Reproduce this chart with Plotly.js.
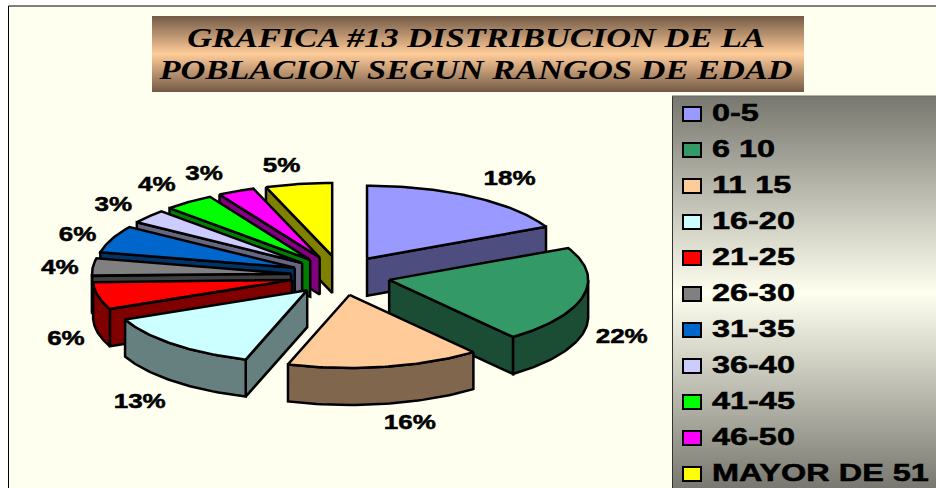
<!DOCTYPE html>
<html>
<head>
<meta charset="utf-8">
<script src="https://cdn.plot.ly/plotly-3.0.1.min.js"></script>
<style>html,body{margin:0;padding:0;background:#fff;overflow:hidden}</style>
</head>
<body>
<div id="chart" style="width:936px;height:488px"></div>
<script>
// ---- data ----
var categories = ['0-5','6 10','11 15','16-20','21-25','26-30','31-35','36-40','41-45','46-50','MAYOR DE 51'];
var values = [17.8,21.5,15.7,13.4,6.1,3.9,6.0,3.1,4.1,3.0,5.4];
var topColors = ['#9999FF','#339966','#FFCC99','#CCFFFF','#FF0000','#808080','#0066CC','#CCCCFF','#00FF00','#FF00FF','#FFFF00'];
var wallColors = ['#4D4D80','#1A4D33','#80664D','#668080','#800000','#404040','#003366','#666680','#008000','#800080','#808000'];
var titleText = 'GRAFICA #13 DISTRIBUCION DE LA<br>POBLACION SEGUN RANGOS DE EDAD';

// ---- drawing parameters ----
var W = 936, H = 488;
var cx = 340.6, cy = 275.5, rx = 199, ry = 73, depth = 37, pullX = 49.8, pullY = 19.8;
var labelNudgeX = [37,38.5,25,-34,-32,-33,-34,-35,-32,-32,-17];
var labelNudgeY = [-17,42,57,58,44,2,-3,-11,-16,-17,-17];

var total = values.reduce(function(a,b){return a+b;},0);
var rad = Math.PI/180;
function ex(deg){return Math.sin(deg*rad);}
function ey(deg){return -Math.cos(deg*rad);}

function polyTrace(xs, ys, color){
  return {type:'scatter', mode:'lines', x:xs.concat([xs[0]]), y:ys.concat([ys[0]]), fill:'toself',
    fillcolor:color, line:{color:'#000', width:2.5}, hoverinfo:'skip', showlegend:false};
}
function gradientRect(x0,y0,x1,y1,edge,mid,midPos){
  return {type:'scatter', mode:'lines', x:[x0,x1,x1,x0,x0], y:[y0,y0,y1,y1,y0], fill:'toself',
    fillcolor:mid, line:{width:0,color:'rgba(0,0,0,0)'}, hoverinfo:'skip', showlegend:false,
    fillgradient:{type:'vertical', colorscale:[[0,edge],[midPos,mid],[1,edge]]}};
}

// slices
var slices = [], cum = 0;
values.forEach(function(v,i){
  var a0 = cum/total*360; cum += v; var a1 = cum/total*360; var m = (a0+a1)/2;
  slices.push({i:i,a0:a0,a1:a1,m:m,
    ax:cx+pullX*ex(m), ay:cy+pullY*ey(m)});
});

var traces = [];
traces.push(gradientRect(152,16,804,92,'#735A46','#FFCC99',0.5));
traces.push(gradientRect(672.5,96,940,490,'#77776F','#FFFFF0',0.5));

function sliceTraces(s){
  var out = [], col = topColors[s.i], dark = wallColors[s.i];
  var px = function(a){return s.ax+rx*ex(a);}, py = function(a){return s.ay+ry*ey(a);};
  // radial walls that face the viewer
  [s.a0,s.a1].forEach(function(a){
    var qx=px(a), qy=py(a), mx=px(s.m), my=py(s.m);
    var ax=s.ax, ay=s.ay, bx=qx, by=qy;
    if(bx<ax){ax=qx;ay=qy;bx=s.ax;by=s.ay;}
    if(Math.abs(bx-ax)<0.5) return;
    var cross=(bx-ax)*(my-ay)-(by-ay)*(mx-ax);
    if(cross<0){
      out.push(polyTrace([s.ax,qx,qx,s.ax],[s.ay,qy,qy+depth,s.ay+depth],dark));
    }
  });
  // outer wall, front half of the ellipse only
  var w0=Math.max(s.a0,90), w1=Math.min(s.a1,270);
  if(w1>w0){
    var tx=[],ty=[],bxs=[],bys=[];
    for(var k=0;k<=40;k++){
      var a=w0+(w1-w0)*k/40;
      tx.push(px(a));ty.push(py(a));bxs.unshift(px(a));bys.unshift(py(a)+depth);
    }
    out.push(polyTrace(tx.concat(bxs),ty.concat(bys),dark));
  }
  // top face
  var fx=[s.ax],fy=[s.ay];
  for(var j=0;j<=60;j++){
    var b=s.a0+(s.a1-s.a0)*j/60;
    fx.push(px(b));fy.push(py(b));
  }
  out.push(polyTrace(fx,fy,col));
  return out;
}
// painter's order: back slices first
slices.slice().sort(function(p,q){return ey(p.m)-ey(q.m);}).forEach(function(s){
  traces = traces.concat(sliceTraces(s));
});

// percentage labels
traces.push({type:'scatter', mode:'text',
  x:slices.map(function(s){return cx+(rx+pullX)*ex(s.m)+labelNudgeX[s.i];}),
  y:slices.map(function(s){return cy+(ry+pullY)*ey(s.m)+labelNudgeY[s.i];}),
  text:values.map(function(v){return Math.round(v)+'%';}),
  textposition:'middle center',
  textfont:{family:'Liberation Sans',size:21,color:'#000',weight:700},
  hoverinfo:'skip', showlegend:false});

// legend
var legendRow = function(i){return 114+36*i;};
traces.push({type:'scatter', mode:'text',
  x:categories.map(function(){return 712;}),
  y:categories.map(function(c,i){return legendRow(i)+1.5;}),
  text:categories, textposition:'middle right',
  textfont:{family:'Liberation Sans',size:23,color:'#000',weight:700},
  hoverinfo:'skip', showlegend:false});

var shapes = [
  {type:'rect',layer:'below',x0:8.5,y0:6,x1:945,y1:495,fillcolor:'#FFFFF0',line:{color:'#000',width:1}},
  {type:'line',layer:'above',x0:672.5,y0:96,x1:672.5,y1:488,line:{color:'#333',width:1}},
  {type:'line',layer:'above',x0:672,y0:96,x1:936,y1:96,line:{color:'#666',width:1}}
];
categories.forEach(function(c,i){
  shapes.push({type:'rect',layer:'above',x0:683,x1:701,y0:legendRow(i)-7,y1:legendRow(i)+7,
    fillcolor:topColors[i],line:{color:'#000',width:2}});
});

var layout = {
  width:W,height:H,margin:{l:0,r:0,t:0,b:0},
  paper_bgcolor:'#FFFFFF',plot_bgcolor:'rgba(0,0,0,0)',showlegend:false,
  title:{text:titleText,x:476/W,xanchor:'center',xref:'paper',y:1-47/H,yref:'paper',yanchor:'top',
    font:{family:'Liberation Serif',size:28,color:'#000',weight:700,style:'italic'}},
  xaxis:{range:[0,W],visible:false,fixedrange:true},
  yaxis:{range:[H,0],visible:false,fixedrange:true},
  shapes:shapes
};

function stretch(el,k,origin){
  el.style.transformBox='fill-box';
  el.style.transformOrigin=origin;
  el.style.transform='scaleX('+k+')';
}
Plotly.newPlot('chart',traces,layout,{displayModeBar:false,staticPlot:true}).then(function(){
  document.querySelectorAll('.textpoint text').forEach(function(t){
    t.style.stroke='#000';t.style.strokeWidth='0.5px';
    if(/%$/.test(t.textContent)) stretch(t,1.24,'50% 50%');
    else stretch(t,1.41,'0% 50%');
  });
  var title=document.querySelector('.gtitle');
  var lines=document.querySelectorAll('.gtitle tspan.line');
  if(lines.length>1) lines[1].setAttribute('dy','32px');
  if(title) stretch(title,1.23,'50% 50%');
});
</script>
</body>
</html>
